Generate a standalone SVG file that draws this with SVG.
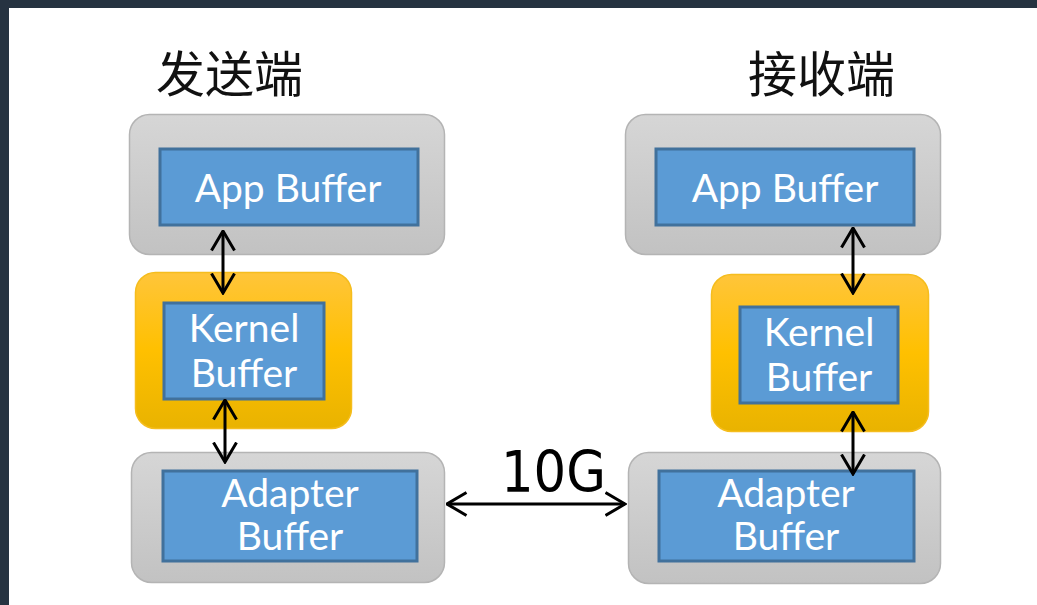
<svg xmlns="http://www.w3.org/2000/svg" width="1037" height="605" viewBox="0 0 1037 605">
  <style>
    .shell { fill: url(#gGray); stroke: #b4b4b4; stroke-width: 1.5; }
    .core { fill: url(#gOrange); stroke: #f5bd1e; stroke-width: 1.5; }
    .buf { fill: #5b9bd5; stroke: #41719c; stroke-width: 3; }
    .lbl { font-family: Lato, "Open Sans", sans-serif; font-size: 39px; fill: #ffffff; text-anchor: middle; }
    .title { font-family: "Noto Sans CJK SC", sans-serif; font-size: 49px; fill: #111111; }
    .link { fill: none; stroke: #000000; stroke-width: 3; marker-start: url(#head); marker-end: url(#head); }
  </style>
  <defs>
    <linearGradient id="gGray" x1="0" y1="0" x2="0" y2="1">
      <stop offset="0" stop-color="#d6d6d6"/>
      <stop offset="1" stop-color="#c2c2c2"/>
    </linearGradient>
    <linearGradient id="gOrange" x1="0" y1="0" x2="0" y2="1">
      <stop offset="0" stop-color="#ffc53a"/>
      <stop offset="0.5" stop-color="#ffc000"/>
      <stop offset="1" stop-color="#e9b300"/>
    </linearGradient>
    <marker id="head" viewBox="0 0 22 26" refX="20.5" refY="13" markerWidth="22" markerHeight="26" markerUnits="userSpaceOnUse" orient="auto-start-reverse">
      <path d="M1,1.5 L20.5,13 L1,24.5" fill="none" stroke="#000000" stroke-width="3"/>
    </marker>
  </defs>

  <!-- page frame -->
  <rect x="0" y="0" width="1037" height="605" fill="#ffffff"/>
  <rect x="0" y="0" width="1037" height="8" fill="#263341"/>
  <rect x="0" y="0" width="9" height="605" fill="#263341"/>

  <!-- side titles -->
  <text class="title" x="156" y="92">发送端</text>
  <text class="title" x="748" y="92">接收端</text>

  <!-- sender side -->
  <g id="send-app">
    <rect class="shell" x="129.5" y="114.5" width="315" height="140" rx="20"/>
    <rect class="buf" x="160" y="149" width="258" height="76"/>
    <text class="lbl" x="288" y="202">App Buffer</text>
  </g>
  <g id="send-kernel">
    <rect class="core" x="135.5" y="272.5" width="216" height="156" rx="20"/>
    <rect class="buf" x="164" y="303" width="160" height="96"/>
    <text class="lbl" x="244" y="342">Kernel</text>
    <text class="lbl" x="244" y="387">Buffer</text>
  </g>
  <g id="send-adapter">
    <rect class="shell" x="131.5" y="452.5" width="313" height="130" rx="20"/>
    <rect class="buf" x="163" y="471" width="254" height="90"/>
    <text class="lbl" x="290" y="507">Adapter</text>
    <text class="lbl" x="290" y="550">Buffer</text>
  </g>

  <!-- receiver side -->
  <g id="recv-app">
    <rect class="shell" x="625.5" y="114.5" width="315" height="140" rx="20"/>
    <rect class="buf" x="656" y="149" width="258" height="76"/>
    <text class="lbl" x="785" y="202">App Buffer</text>
  </g>
  <g id="recv-kernel">
    <rect class="core" x="711.5" y="274.5" width="217" height="157" rx="20"/>
    <rect class="buf" x="740" y="307" width="158" height="96"/>
    <text class="lbl" x="819" y="346">Kernel</text>
    <text class="lbl" x="819" y="391">Buffer</text>
  </g>
  <g id="recv-adapter">
    <rect class="shell" x="628.5" y="452.5" width="312" height="131" rx="20"/>
    <rect class="buf" x="659" y="471" width="255" height="90"/>
    <text class="lbl" x="786" y="507">Adapter</text>
    <text class="lbl" x="786" y="550">Buffer</text>
  </g>

  <!-- connectors -->
  <g id="links">
    <line class="link" x1="223" y1="231" x2="223" y2="293"/>
    <line class="link" x1="225" y1="400" x2="225" y2="462"/>
    <line class="link" x1="853" y1="228" x2="853" y2="293"/>
    <line class="link" x1="853" y1="412" x2="853" y2="474"/>
    <line class="link" x1="447" y1="504" x2="625" y2="504"/>
    <text x="501" y="492" font-family="'DejaVu Sans Condensed', 'DejaVu Sans', sans-serif" font-stretch="condensed" font-size="57" fill="#000000">10G</text>
  </g>
</svg>
